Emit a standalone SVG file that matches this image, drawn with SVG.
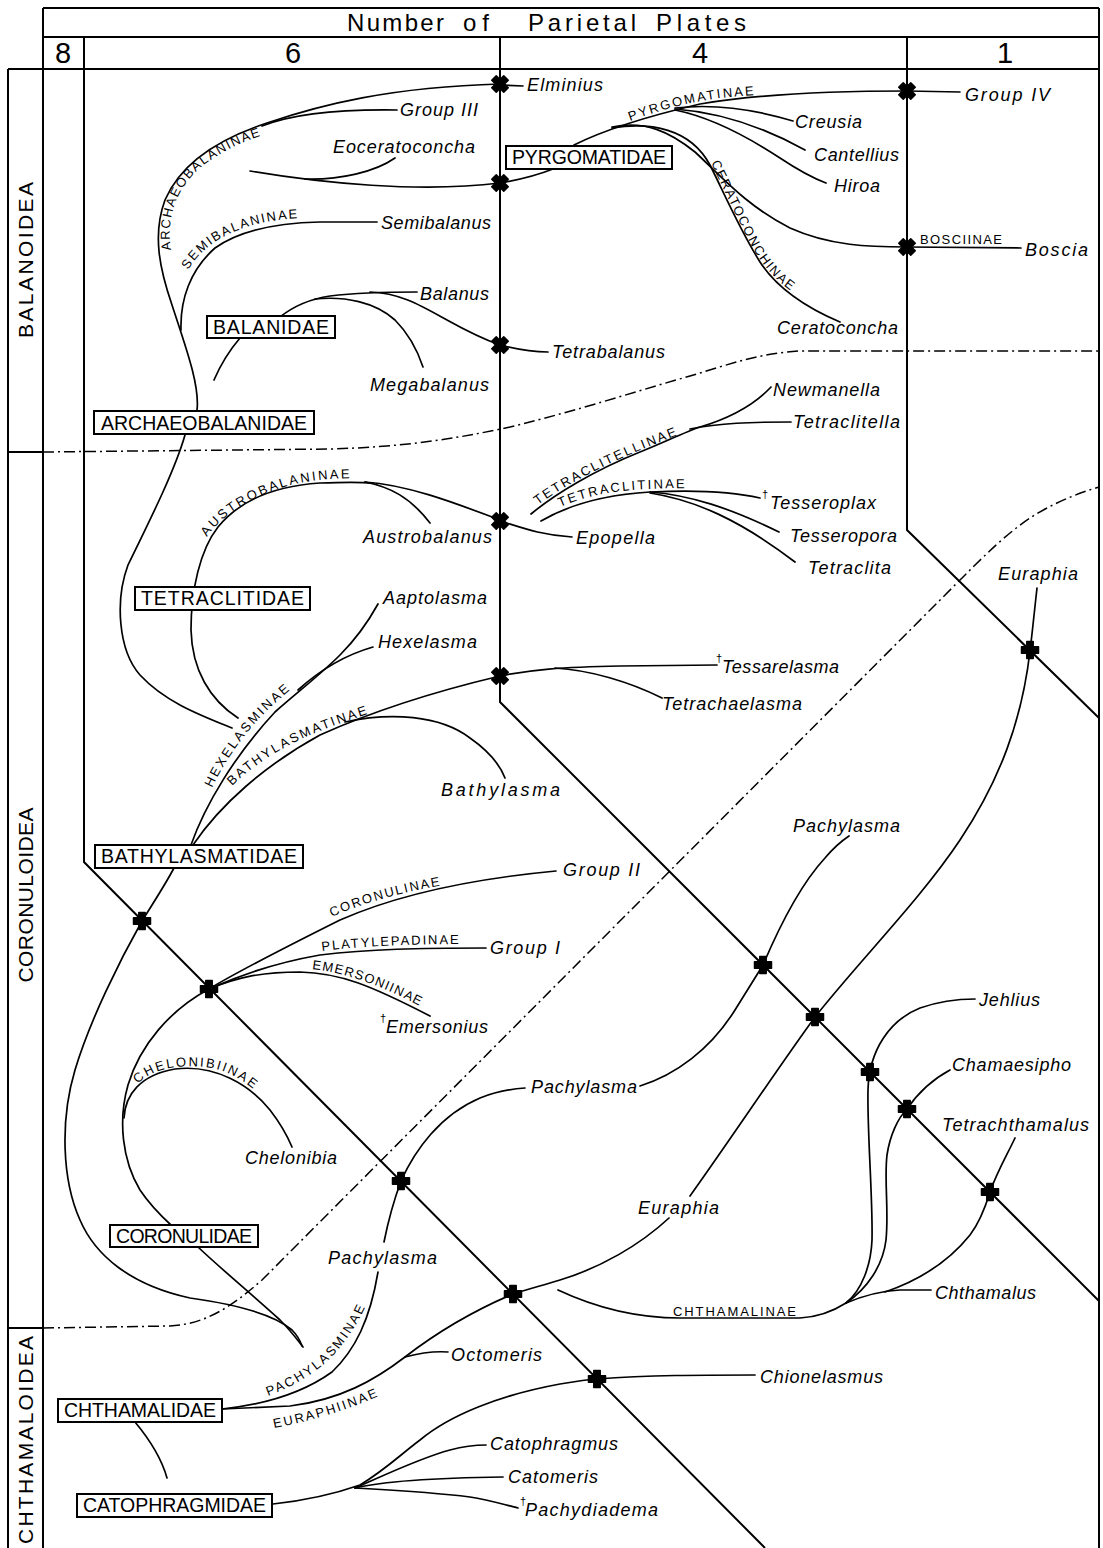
<svg xmlns="http://www.w3.org/2000/svg" xmlns:xlink="http://www.w3.org/1999/xlink" width="1103" height="1548" viewBox="0 0 1103 1548">
<style>
.fr{fill:none;stroke:#000;stroke-width:2}
.dd{fill:none;stroke:#000;stroke-width:1.5;stroke-dasharray:11 4 2 4}
.ln{fill:none;stroke:#000;stroke-width:1.7;stroke-linecap:round}
.box{fill:#fff;stroke:#000;stroke-width:2}
.cr{fill:#000;stroke:#000;stroke-width:1.5;stroke-linejoin:round}
text{font-family:"Liberation Sans",Arial,sans-serif;fill:#000}
.sp{font-size:18px;font-style:italic}
.fam{font-size:19.5px;text-anchor:middle}
.sub{font-size:13px}
.hdr{font-size:24px}
.num{font-size:29px;text-anchor:middle}
.sf{font-size:21px;text-anchor:middle}
.dag{font-size:11px;font-style:normal}
</style>
<defs>
<path id="plus" d="M-3.2,-8.5 H3.2 V-3.2 H8.5 V3.2 H3.2 V8.5 H-3.2 V3.2 H-8.5 V-3.2 H-3.2 Z"/>
<path id="lp-archaeo" d="M171,250 C166,220 175,190 200,168 C225,148 255,135 292,128"/>
<path id="lp-semi" d="M188,270 C200,250 220,235 250,226 C270,220 290,218 312,218"/>
<path id="lp-pyrg" d="M630,121 C660,110 690,102 720,98 C740,96 755,95 772,94"/>
<path id="lp-cerato" d="M711,163 C722,186 736,216 751,245 C766,272 786,292 816,305"/>
<path id="lp-tetraclitell" d="M538,505 C563,486 608,463 648,447 C668,439 683,433 700,427"/>
<path id="lp-tetraclitin" d="M560,507 C585,496 615,490 650,489 C670,488 685,488 702,488"/>
<path id="lp-austro" d="M207,537 C222,515 250,497 290,485 C315,479 340,478 364,478"/>
<path id="lp-hexel" d="M212,788 C226,758 248,728 273,705 C286,693 296,685 307,676"/>
<path id="lp-bathyl" d="M232,786 C255,763 285,745 320,731 C340,723 355,718 374,712"/>
<path id="lp-coronul" d="M332,917 C365,902 405,891 452,884"/>
<path id="lp-platyl" d="M322,951 C360,946 410,944 470,944"/>
<path id="lp-emers" d="M312,969 C340,972 370,982 400,996 C410,1001 418,1005 426,1009"/>
<path id="lp-chelon" d="M138,1084 C150,1070 175,1064 205,1067 C225,1069 245,1080 262,1097"/>
<path id="lp-pachyl" d="M268,1396 C300,1384 325,1367 342,1345 C355,1328 362,1315 369,1298"/>
<path id="lp-euraph" d="M274,1428 C305,1422 345,1412 388,1392"/>
</defs>

<g id="frame">
<line class="fr" x1="43" y1="8" x2="1099" y2="8"/>
<line class="fr" x1="43" y1="37" x2="1099" y2="37"/>
<line class="fr" x1="8" y1="69" x2="1099" y2="69"/>
<line class="fr" x1="43" y1="8" x2="43" y2="1548"/>
<line class="fr" x1="1099" y1="8" x2="1099" y2="1548"/>
<line class="fr" x1="8" y1="69" x2="8" y2="1548"/>
<line class="fr" x1="8" y1="452" x2="43" y2="452"/>
<line class="fr" x1="8" y1="1328" x2="43" y2="1328"/>
<polyline class="fr" points="84,37 84,862 765,1548"/>
<polyline class="fr" points="500,37 500,702 1099,1301"/>
<polyline class="fr" points="907,37 907,530 1099,718"/>
<text class="hdr" y="31"><tspan x="347" textLength="97">Number</tspan><tspan x="463" textLength="26">of</tspan><tspan x="528" textLength="108">Parietal</tspan><tspan x="656" textLength="90">Plates</tspan></text>
<text class="num" x="63" y="63">8</text>
<text class="num" x="293" y="63">6</text>
<text class="num" x="700" y="63">4</text>
<text class="num" x="1005" y="63">1</text>
<text class="sf" transform="translate(33,260) rotate(-90)" textLength="156">BALANOIDEA</text>
<text class="sf" transform="translate(33,895) rotate(-90)" textLength="175">CORONULOIDEA</text>
<text class="sf" transform="translate(33,1440) rotate(-90)" textLength="208">CHTHAMALOIDEA</text>
</g>

<g id="boundaries">
<path class="dd" d="M43,452 L330,449 C400,447 450,440 510,427 C580,410 640,390 690,376 C730,364 760,353 800,351 L1099,351"/>
<path class="dd" d="M43,1328 L170,1326 C205,1324 230,1308 262,1280 L957,583 C985,555 1005,535 1030,518 C1050,505 1075,494 1099,487"/>
</g>

<g id="connectors">
<path class="ln" d="M197,410 C200,385 185,345 172,305 C160,270 152,235 165,200 C180,165 215,140 267,123 C320,105 390,87 500,84"/>
<path class="ln" d="M185,435 C175,470 150,520 128,565 C115,600 118,650 140,675 C165,702 200,715 232,728"/>
<path class="ln" d="M262,126 C290,115 330,109 397,110"/>
<path class="ln" d="M250,171 C320,183 420,193 500,183"/>
<path class="ln" d="M305,179 C340,180 375,172 395,158"/>
<path class="ln" d="M181,330 C180,300 190,270 215,248 C240,230 275,223 320,222 L377,222"/>
<path class="ln" d="M280,317 C295,305 310,299 330,296 C355,293 380,292 417,292"/>
<path class="ln" d="M370,292 C400,293 420,305 447,320 C465,330 480,338 500,345"/>
<path class="ln" d="M315,299 C345,296 375,302 395,320 C410,335 418,352 423,367"/>
<path class="ln" d="M240,338 C228,352 220,366 214,380"/>
<path class="ln" d="M500,345 C515,349 530,352 548,352"/>
<path class="ln" d="M500,85 L523,86"/>
<path class="ln" d="M553,169 Q530,178 500,183"/>
<path class="ln" d="M574,145 C600,132 640,118 700,104 C760,94 830,91 907,91 L960,92"/>
<path class="ln" d="M675,108 C710,104 750,108 793,121"/>
<path class="ln" d="M675,109 C715,112 760,125 805,150"/>
<path class="ln" d="M675,110 C710,117 745,135 780,158 C795,168 810,177 826,183"/>
<path class="ln" d="M612,127 C645,120 670,132 695,152 C720,175 745,205 790,228 C830,246 870,247 907,247 L1021,248"/>
<path class="ln" d="M612,128 C650,122 690,128 710,165 C725,195 740,230 760,262 C775,285 800,305 840,322"/>
<path class="ln" d="M238,718 C210,700 192,670 191,630 C191,590 200,550 218,527 C240,500 275,486 320,483 C345,482 360,482 373,483"/>
<path class="ln" d="M365,482 C390,487 410,497 430,523"/>
<path class="ln" d="M365,482 C410,485 460,505 500,520"/>
<path class="ln" d="M500,521 C520,527 540,535 572,537"/>
<path class="ln" d="M531,514 C555,494 595,470 640,452 C665,442 685,432 700,427 C730,418 755,404 771,387"/>
<path class="ln" d="M690,429 C720,423 750,422 791,422"/>
<path class="ln" d="M541,521 C565,507 600,495 650,492 C690,490 730,491 760,498"/>
<path class="ln" d="M650,492 C690,495 730,508 779,532"/>
<path class="ln" d="M650,493 C695,500 740,520 795,562"/>
<path class="ln" d="M191,845 C205,805 235,755 275,712 C300,690 320,675 340,655 C355,640 368,622 378,604"/>
<path class="ln" d="M298,690 C320,670 345,655 373,647"/>
<path class="ln" d="M193,845 C220,805 265,765 320,735 C360,717 420,695 500,676"/>
<path class="ln" d="M345,722 C390,712 440,715 470,738 C490,752 500,765 505,778"/>
<path class="ln" d="M500,676 C530,670 560,667 620,666 L717,665"/>
<path class="ln" d="M555,668 C590,670 630,682 662,698"/>
<path class="ln" d="M174,868 C165,885 152,905 142,921 C120,960 90,1020 75,1070 C60,1120 62,1180 80,1220 C95,1255 130,1285 190,1298 C240,1305 275,1315 292,1330 C297,1335 300,1340 302,1346"/>
<path class="ln" d="M209,989 C170,1010 140,1045 128,1085 C118,1120 122,1160 140,1190 C150,1205 160,1215 172,1226"/>
<path class="ln" d="M124,1118 C125,1095 140,1075 175,1069 C215,1064 250,1085 270,1110 C280,1123 287,1135 292,1147"/>
<path class="ln" d="M198,1247 C220,1268 255,1297 280,1320 C292,1332 299,1342 303,1347"/>
<path class="ln" d="M209,989 C240,970 290,945 340,920 C390,898 460,880 556,871"/>
<path class="ln" d="M209,989 C240,975 280,962 320,955 C370,949 420,948 486,948"/>
<path class="ln" d="M209,989 C235,978 260,972 300,972 C340,973 370,985 430,1016"/>
<path class="ln" d="M222,1409 C260,1405 300,1395 332,1372 C355,1350 370,1320 378,1272"/>
<path class="ln" d="M384,1242 C388,1222 394,1200 401,1181 C415,1150 440,1115 480,1098 C495,1092 510,1089 525,1088"/>
<path class="ln" d="M640,1086 C675,1075 710,1050 735,1010 L763,965 C780,925 800,885 825,858 C835,846 843,840 849,836"/>
<path class="ln" d="M1037,588 C1034,615 1032,635 1030,651 C1022,720 1000,780 960,840 C920,900 860,960 815,1017 C780,1065 730,1140 690,1196"/>
<path class="ln" d="M669,1218 C640,1245 600,1268 560,1280 C540,1286 525,1290 513,1294 C480,1308 440,1330 405,1357 C375,1380 340,1400 290,1406 L222,1409"/>
<path class="ln" d="M405,1357 C420,1353 435,1351 448,1352"/>
<path class="ln" d="M558,1290 C590,1305 630,1318 680,1318 L800,1318 C820,1317 835,1310 846,1303"/>
<path class="ln" d="M846,1303 C862,1290 871,1265 872,1240 C873,1200 867,1130 868,1090 C869,1050 890,1020 920,1008 C940,1001 955,999 975,999"/>
<path class="ln" d="M846,1303 C868,1288 883,1265 886,1240 C889,1210 884,1180 887,1155 C890,1135 898,1118 907,1109 C920,1090 935,1078 950,1070"/>
<path class="ln" d="M846,1303 C865,1295 880,1291 900,1290 L931,1290"/>
<path class="ln" d="M885,1292 C920,1280 950,1260 970,1235 C980,1222 986,1205 990,1192 C997,1172 1007,1155 1015,1138"/>
<path class="ln" d="M273,1504 C310,1500 340,1492 360,1485 C385,1470 400,1455 420,1440 C450,1415 500,1395 560,1384 C580,1381 590,1379 597,1379 C650,1375 700,1375 755,1375"/>
<path class="ln" d="M355,1488 C385,1475 420,1458 450,1450 C465,1446 475,1445 486,1445"/>
<path class="ln" d="M355,1488 C380,1482 420,1478 503,1477"/>
<path class="ln" d="M355,1488 C390,1490 430,1492 470,1497 C490,1500 505,1505 518,1508"/>
<path class="ln" d="M135,1422 C150,1440 162,1460 167,1478"/>
</g>

<g id="crosses">
<use href="#plus" class="cr" transform="translate(500,84) rotate(45)"/>
<use href="#plus" class="cr" transform="translate(500,183) rotate(45)"/>
<use href="#plus" class="cr" transform="translate(500,345) rotate(45)"/>
<use href="#plus" class="cr" transform="translate(500,521) rotate(45)"/>
<use href="#plus" class="cr" transform="translate(500,676) rotate(45)"/>
<use href="#plus" class="cr" transform="translate(907,91) rotate(45)"/>
<use href="#plus" class="cr" transform="translate(907,247) rotate(45)"/>
<use href="#plus" class="cr" transform="translate(142,921)"/>
<use href="#plus" class="cr" transform="translate(209,989)"/>
<use href="#plus" class="cr" transform="translate(401,1181)"/>
<use href="#plus" class="cr" transform="translate(513,1294)"/>
<use href="#plus" class="cr" transform="translate(597,1379)"/>
<use href="#plus" class="cr" transform="translate(763,965)"/>
<use href="#plus" class="cr" transform="translate(815,1017)"/>
<use href="#plus" class="cr" transform="translate(870,1072)"/>
<use href="#plus" class="cr" transform="translate(907,1109)"/>
<use href="#plus" class="cr" transform="translate(990,1192)"/>
<use href="#plus" class="cr" transform="translate(1030,650)"/>
</g>

<g id="fam-archaeobalanidae"><rect class="box" x="94" y="411" width="220" height="23"/><text class="fam" x="204" y="430" textLength="206">ARCHAEOBALANIDAE</text></g>
<g id="fam-balanidae"><rect class="box" x="207" y="316" width="128" height="22"/><text class="fam" x="271" y="334" textLength="116">BALANIDAE</text></g>
<g id="fam-pyrgomatidae"><rect class="box" x="506" y="146" width="166" height="23"/><text class="fam" x="589" y="164" textLength="154">PYRGOMATIDAE</text></g>
<g id="fam-tetraclitidae"><rect class="box" x="135" y="587" width="175" height="23"/><text class="fam" x="222.5" y="605" textLength="163">TETRACLITIDAE</text></g>
<g id="fam-bathylasmatidae"><rect class="box" x="95" y="845" width="208" height="23"/><text class="fam" x="199" y="863" textLength="196">BATHYLASMATIDAE</text></g>
<g id="fam-coronulidae"><rect class="box" x="110" y="1225" width="148" height="22"/><text class="fam" x="184" y="1243" textLength="136">CORONULIDAE</text></g>
<g id="fam-chthamalidae"><rect class="box" x="58" y="1399" width="164" height="23"/><text class="fam" x="140" y="1417" textLength="152">CHTHAMALIDAE</text></g>
<g id="fam-catophragmidae"><rect class="box" x="77" y="1494" width="195" height="23"/><text class="fam" x="174.5" y="1512" textLength="183">CATOPHRAGMIDAE</text></g>

<g id="subfamilies">
<text class="sub"><textPath href="#lp-archaeo" textLength="160">ARCHAEOBALANINAE</textPath></text>
<text class="sub"><textPath href="#lp-semi" textLength="126">SEMIBALANINAE</textPath></text>
<text class="sub"><textPath href="#lp-pyrg" textLength="127">PYRGOMATINAE</textPath></text>
<text class="sub"><textPath href="#lp-cerato" textLength="152">CERATOCONCHINAE</textPath></text>
<text class="sub" x="920" y="244" textLength="82">BOSCIINAE</text>
<text class="sub"><textPath href="#lp-tetraclitell" textLength="156">TETRACLITELLINAE</textPath></text>
<text class="sub"><textPath href="#lp-tetraclitin" textLength="127">TETRACLITINAE</textPath></text>
<text class="sub"><textPath href="#lp-austro" textLength="160">AUSTROBALANINAE</textPath></text>
<text class="sub"><textPath href="#lp-hexel" textLength="126">HEXELASMINAE</textPath></text>
<text class="sub"><textPath href="#lp-bathyl" textLength="155">BATHYLASMATINAE</textPath></text>
<text class="sub"><textPath href="#lp-coronul" textLength="113">CORONULINAE</textPath></text>
<text class="sub"><textPath href="#lp-platyl" textLength="137">PLATYLEPADINAE</textPath></text>
<text class="sub"><textPath href="#lp-emers" textLength="114">EMERSONIINAE</textPath></text>
<text class="sub"><textPath href="#lp-chelon" textLength="125">CHELONIBIINAE</textPath></text>
<text class="sub" x="673" y="1316" textLength="123">CHTHAMALINAE</text>
<text class="sub"><textPath href="#lp-pachyl" textLength="135">PACHYLASMINAE</textPath></text>
<text class="sub"><textPath href="#lp-euraph" textLength="109">EURAPHIINAE</textPath></text>
</g>

<g id="taxa">
<g id="t-elminius"><text class="sp" x="527" y="91" textLength="76">Elminius</text></g>
<g id="t-group3"><text class="sp" x="400" y="116" textLength="78">Group  III</text></g>
<g id="t-eoceratoconcha"><text class="sp" x="333" y="153" textLength="142">Eoceratoconcha</text></g>
<g id="t-semibalanus"><text class="sp" x="381" y="229" textLength="110">Semibalanus</text></g>
<g id="t-balanus"><text class="sp" x="420" y="300" textLength="69">Balanus</text></g>
<g id="t-tetrabalanus"><text class="sp" x="552" y="358" textLength="113">Tetrabalanus</text></g>
<g id="t-megabalanus"><text class="sp" x="370" y="391" textLength="119">Megabalanus</text></g>
<g id="t-group4"><text class="sp" x="965" y="101" textLength="85">Group  IV</text></g>
<g id="t-creusia"><text class="sp" x="795" y="128" textLength="67">Creusia</text></g>
<g id="t-cantellius"><text class="sp" x="814" y="161" textLength="85">Cantellius</text></g>
<g id="t-hiroa"><text class="sp" x="834" y="192" textLength="46">Hiroa</text></g>
<g id="t-boscia"><text class="sp" x="1025" y="256" textLength="63">Boscia</text></g>
<g id="t-ceratoconcha"><text class="sp" x="777" y="334" textLength="121">Ceratoconcha</text></g>
<g id="t-newmanella"><text class="sp" x="773" y="396" textLength="107">Newmanella</text></g>
<g id="t-tetraclitella"><text class="sp" x="793" y="428" textLength="107">Tetraclitella</text></g>
<g id="t-tesseroplax"><text class="sp" x="762" y="498"><tspan class="dag">†</tspan><tspan x="770" y="509" textLength="106">Tesseroplax</tspan></text></g>
<g id="t-tesseropora"><text class="sp" x="790" y="542" textLength="107">Tesseropora</text></g>
<g id="t-tetraclita"><text class="sp" x="808" y="574" textLength="83">Tetraclita</text></g>
<g id="t-austrobalanus"><text class="sp" x="363" y="543" textLength="129">Austrobalanus</text></g>
<g id="t-epopella"><text class="sp" x="576" y="544" textLength="79">Epopella</text></g>
<g id="t-euraphia1"><text class="sp" x="998" y="580" textLength="80">Euraphia</text></g>
<g id="t-aaptolasma"><text class="sp" x="383" y="604" textLength="104">Aaptolasma</text></g>
<g id="t-hexelasma"><text class="sp" x="378" y="648" textLength="99">Hexelasma</text></g>
<g id="t-tessarelasma"><text class="sp" x="716" y="662"><tspan class="dag">†</tspan><tspan x="722" y="673" textLength="117">Tessarelasma</tspan></text></g>
<g id="t-tetrachaelasma"><text class="sp" x="662" y="710" textLength="140">Tetrachaelasma</text></g>
<g id="t-bathylasma"><text class="sp" x="441" y="796" textLength="119">Bathylasma</text></g>
<g id="t-pachylasma1"><text class="sp" x="793" y="832" textLength="107">Pachylasma</text></g>
<g id="t-group2"><text class="sp" x="563" y="876" textLength="77">Group  II</text></g>
<g id="t-group1"><text class="sp" x="490" y="954" textLength="70">Group  I</text></g>
<g id="t-emersonius"><text class="sp" x="380" y="1022"><tspan class="dag">†</tspan><tspan x="386" y="1033" textLength="102">Emersonius</tspan></text></g>
<g id="t-jehlius"><text class="sp" x="979" y="1006" textLength="61">Jehlius</text></g>
<g id="t-chamaesipho"><text class="sp" x="952" y="1071" textLength="119">Chamaesipho</text></g>
<g id="t-pachylasma2"><text class="sp" x="531" y="1093" textLength="106">Pachylasma</text></g>
<g id="t-tetrachthamalus"><text class="sp" x="942" y="1131" textLength="147">Tetrachthamalus</text></g>
<g id="t-chelonibia"><text class="sp" x="245" y="1164" textLength="92">Chelonibia</text></g>
<g id="t-euraphia2"><text class="sp" x="638" y="1214" textLength="81">Euraphia</text></g>
<g id="t-pachylasma3"><text class="sp" x="328" y="1264" textLength="109">Pachylasma</text></g>
<g id="t-chthamalus"><text class="sp" x="935" y="1299" textLength="101">Chthamalus</text></g>
<g id="t-octomeris"><text class="sp" x="451" y="1361" textLength="91">Octomeris</text></g>
<g id="t-chionelasmus"><text class="sp" x="760" y="1383" textLength="123">Chionelasmus</text></g>
<g id="t-catophragmus"><text class="sp" x="490" y="1450" textLength="128">Catophragmus</text></g>
<g id="t-catomeris"><text class="sp" x="508" y="1483" textLength="90">Catomeris</text></g>
<g id="t-pachydiadema"><text class="sp" x="520" y="1505"><tspan class="dag">†</tspan><tspan x="525" y="1516" textLength="133">Pachydiadema</tspan></text></g>
</g>
</svg>
